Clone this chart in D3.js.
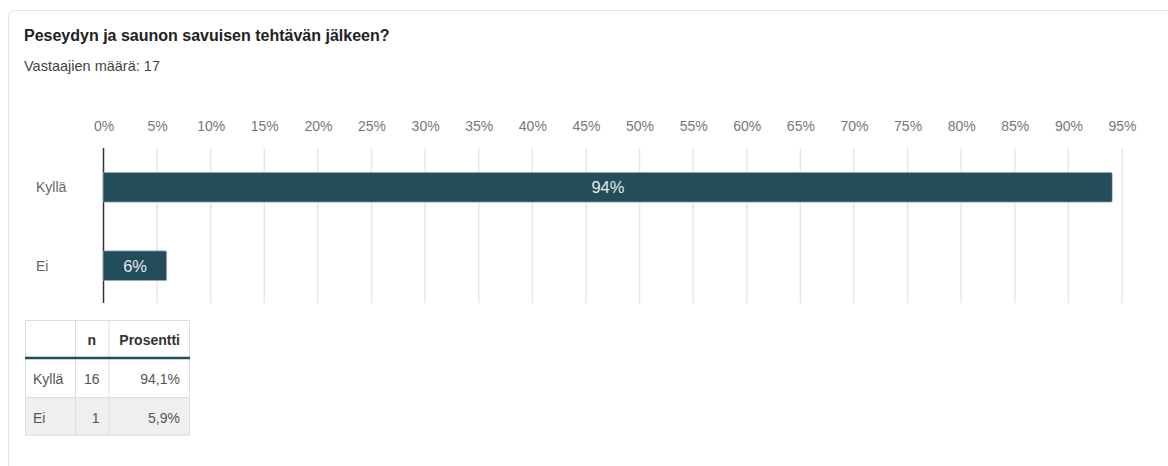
<!DOCTYPE html>
<html>
<head>
<meta charset="utf-8">
<script src="https://cdn.jsdelivr.net/npm/d3@7"></script>
<style>
  body { margin: 0; background: #fff; font-family: "Liberation Sans", Arial, sans-serif; }
  .tick text { fill: #777; font-size: 14px; font-family: "Liberation Sans", Arial, sans-serif; }
</style>
</head>
<body>
<div id="chart"></div>
<script>
// Chart data
let categories = ["Kyllä", "Ei"];
let counts = [16, 1];
let percents = [94.1, 5.9];
let barLabels = ["94%", "6%"];
let tableRows = ["94,1%", "5,9%"];
let tickValues = d3.range(0, 100, 5);

let width = 1168;
let height = 466;

let svg = d3.select("#chart")
    .append("svg")
    .attr("width", width)
    .attr("height", height);

// Panel border
svg.append("rect")
    .attr("x", 8.5)
    .attr("y", 10.5)
    .attr("width", 1200)
    .attr("height", 500)
    .attr("rx", 6)
    .attr("fill", "#fff")
    .attr("stroke", "#e2e2e2");

// Title and respondent count
svg.append("text")
    .attr("x", 24)
    .attr("y", 41)
    .attr("font-size", 16)
    .attr("font-weight", "bold")
    .attr("fill", "#222")
    .text("Peseydyn ja saunon savuisen tehtävän jälkeen?");

svg.append("text")
    .attr("x", 24)
    .attr("y", 71)
    .attr("font-size", 14.5)
    .attr("fill", "#444")
    .text("Vastaajien määrä: 17");

// Scales
let xScale = d3.scaleLinear()
    .domain([0, 95])
    .range([103.5, 1122]);

let yScale = d3.scaleBand()
    .domain(categories)
    .range([148, 305])
    .paddingInner(0.62)
    .paddingOuter(0.31);

// Grid lines
svg.append("g")
    .selectAll("line")
    .data(tickValues.slice(1))
    .enter()
    .append("line")
    .attr("x1", d => xScale(d))
    .attr("x2", d => xScale(d))
    .attr("y1", 148)
    .attr("y2", 303)
    .attr("stroke", "#e6e6e6")
    .attr("stroke-width", 1.5);

// Zero line
svg.append("line")
    .attr("x1", xScale(0))
    .attr("x2", xScale(0))
    .attr("y1", 148)
    .attr("y2", 303)
    .attr("stroke", "#333")
    .attr("stroke-width", 1.5);

// Top axis labels
let xAxis = d3.axisTop(xScale)
    .tickValues(tickValues)
    .tickSize(0)
    .tickPadding(0)
    .tickFormat(d => d + "%");

svg.append("g")
    .attr("transform", "translate(0, 131)")
    .call(xAxis)
    .call(g => g.select(".domain").remove());

// Bars (they cover the zero line)
svg.append("g")
    .selectAll("rect")
    .data(percents)
    .enter()
    .append("rect")
    .attr("x", xScale(0) - 0.5)
    .attr("y", (d, i) => yScale(categories[i]))
    .attr("width", d => xScale(d) - xScale(0) + 0.5)
    .attr("height", yScale.bandwidth())
    .attr("rx", 1.5)
    .attr("fill", "#234d5a")
    .attr("stroke", "#cfdadd")
    .attr("stroke-width", 0.6);

// Bar value labels
svg.append("g")
    .selectAll("text")
    .data(percents)
    .enter()
    .append("text")
    .attr("x", d => (xScale(0) + xScale(d)) / 2)
    .attr("y", (d, i) => yScale(categories[i]) + yScale.bandwidth() / 2 + 6)
    .attr("text-anchor", "middle")
    .attr("font-size", 16.5)
    .attr("fill", "#e3eaed")
    .text((d, i) => barLabels[i]);

// Category labels
svg.append("g")
    .selectAll("text")
    .data(categories)
    .enter()
    .append("text")
    .attr("x", 36)
    .attr("y", d => yScale(d) + yScale.bandwidth() / 2 + 5)
    .attr("font-size", 14)
    .attr("fill", "#666")
    .text(d => d);

// Table
let colX = [25, 75, 108.5, 190];
let rowY = [320, 358, 397, 435.5];
let table = svg.append("g");

// Row backgrounds
table.append("rect")
    .attr("x", colX[0]).attr("y", rowY[2])
    .attr("width", colX[3] - colX[0]).attr("height", rowY[3] - rowY[2])
    .attr("fill", "#efefef");

// Cell borders
table.append("rect")
    .attr("x", colX[0] + 0.5).attr("y", rowY[0] + 0.5)
    .attr("width", colX[3] - colX[0] - 1).attr("height", rowY[3] - rowY[0] - 1)
    .attr("fill", "none")
    .attr("stroke", "#dddddd");

table.selectAll("line.col")
    .data(colX.slice(1, 3))
    .enter()
    .append("line")
    .attr("x1", d => d + 0.5).attr("x2", d => d + 0.5)
    .attr("y1", rowY[0]).attr("y2", rowY[3])
    .attr("stroke", "#dddddd");

table.append("line")
    .attr("x1", colX[0]).attr("x2", colX[3])
    .attr("y1", rowY[2] + 0.5).attr("y2", rowY[2] + 0.5)
    .attr("stroke", "#dddddd");

table.append("line")
    .attr("x1", colX[0]).attr("x2", colX[3])
    .attr("y1", rowY[1]).attr("y2", rowY[1])
    .attr("stroke", "#234d5a")
    .attr("stroke-width", 2.5);

// Header text
table.append("text")
    .attr("x", (colX[1] + colX[2]) / 2).attr("y", rowY[0] + 25)
    .attr("text-anchor", "middle")
    .attr("font-size", 14).attr("font-weight", "bold").attr("fill", "#333")
    .text("n");

table.append("text")
    .attr("x", colX[3] - 10).attr("y", rowY[0] + 25)
    .attr("text-anchor", "end")
    .attr("font-size", 14).attr("font-weight", "bold").attr("fill", "#333")
    .text("Prosentti");

// Body text
categories.forEach(function (c, i) {
    let y = rowY[i + 1] + 26;
    table.append("text")
        .attr("x", colX[0] + 8).attr("y", y)
        .attr("font-size", 14).attr("fill", "#555")
        .text(c);
    table.append("text")
        .attr("x", colX[2] - 9).attr("y", y)
        .attr("text-anchor", "end")
        .attr("font-size", 14).attr("fill", "#555")
        .text(counts[i]);
    table.append("text")
        .attr("x", colX[3] - 10).attr("y", y)
        .attr("text-anchor", "end")
        .attr("font-size", 14).attr("fill", "#555")
        .text(tableRows[i]);
});
</script>
</body>
</html>
